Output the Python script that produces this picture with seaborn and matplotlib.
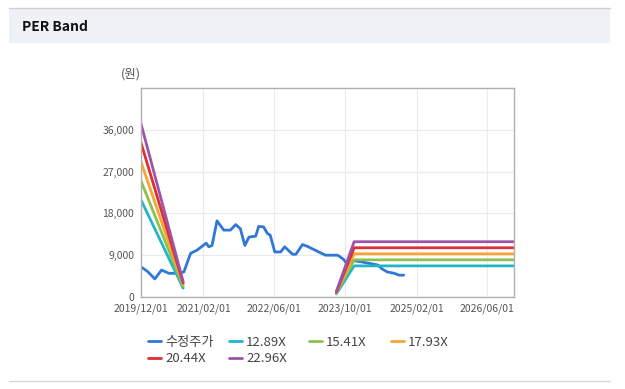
import pandas as pd
import numpy as np
import matplotlib
matplotlib.use("Agg")
import matplotlib.pyplot as plt
import matplotlib.dates as mdates
from matplotlib.patches import Rectangle
from matplotlib.lines import Line2D
from matplotlib.ticker import FuncFormatter
import seaborn as sns

# adjusted close (수정주가)
price_dates = ["2019-12-01", "2020-01-15", "2020-03-05", "2020-04-20", "2020-06-10",
               "2020-08-15", "2020-09-20", "2020-11-05", "2020-12-20", "2021-02-20",
               "2021-03-10", "2021-04-01", "2021-05-05", "2021-06-20", "2021-08-05",
               "2021-09-10", "2021-10-12", "2021-11-12", "2021-12-10", "2022-01-25",
               "2022-02-15", "2022-03-20", "2022-04-15", "2022-05-05", "2022-06-05",
               "2022-07-15", "2022-08-12", "2022-10-05", "2022-10-28", "2022-12-12",
               "2023-01-15", "2023-03-01", "2023-04-15", "2023-05-20", "2023-08-10",
               "2023-09-20", "2023-10-15", "2023-12-01", "2024-01-15", "2024-03-20",
               "2024-05-10", "2024-06-12", "2024-07-15", "2024-09-01", "2024-10-05",
               "2024-11-05"]
price_values = [6500, 5500, 3900, 5800, 5100,
                5100, 5400, 9400, 10100, 11600,
                10800, 11100, 16400, 14400, 14400,
                15600, 14700, 11100, 12900, 13100,
                15200, 15100, 13700, 13300, 9700,
                9700, 10800, 9200, 9200, 11300,
                10900, 10200, 9500, 9000, 9000,
                8100, 7000, 7800, 7600, 7200,
                6900, 6000, 5400, 5100, 4700,
                4700]

# PER band lines (two separate segments each)
band_seg1_dates = ["2019-12-01", "2020-09-15"]
band_seg2_dates = ["2023-08-01", "2023-12-01", "2026-12-01"]
band_labels = ["12.89X", "15.41X", "17.93X", "20.44X", "22.96X"]
band_seg1_values = [
    [20900, 1900],
    [25000, 2300],
    [29100, 2600],
    [33200, 3000],
    [37300, 3300],
]
band_seg2_values = [
    [650, 6700, 6700],
    [780, 8000, 8000],
    [900, 9300, 9300],
    [1030, 10600, 10600],
    [1150, 11900, 11900],
]

tick_dates = ["2019-12-01", "2021-02-01", "2022-06-01", "2023-10-01", "2025-02-01", "2026-06-01"]
y_ticks = [0, 9000, 18000, 27000, 36000]

colors = {
    "수정주가": "#2f78d6",
    "12.89X": "#22b5c8",
    "15.41X": "#8cc152",
    "17.93X": "#f6a633",
    "20.44X": "#dc2f2f",
    "22.96X": "#9e53a8",
}

# build long table
rows = []
for d, v in zip(price_dates, price_values):
    rows.append({"date": d, "value": v, "series": "수정주가", "seg": 0})
for lab, s1, s2 in zip(band_labels, band_seg1_values, band_seg2_values):
    for d, v in zip(band_seg1_dates, s1):
        rows.append({"date": d, "value": v, "series": lab, "seg": 1})
    for d, v in zip(band_seg2_dates, s2):
        rows.append({"date": d, "value": v, "series": lab, "seg": 2})
df = pd.DataFrame(rows)
df["date"] = pd.to_datetime(df["date"])

sns.set_style("whitegrid")
plt.rcParams["font.family"] = ["Noto Sans CJK KR", "DejaVu Sans"]

fig = plt.figure(figsize=(6.25, 3.89), dpi=100)
fig.patch.set_facecolor("white")

# header band
fig.patches.append(Rectangle((9 / 625, 1 - 43 / 389), 601 / 625, 35 / 389,
                             transform=fig.transFigure, facecolor="#eef1f6",
                             edgecolor="none", zorder=0))
fig.lines.append(Line2D([9 / 625, 610 / 625], [1 - 8 / 389, 1 - 8 / 389],
                        transform=fig.transFigure, color="#d0d0d0", lw=1))
fig.lines.append(Line2D([9 / 625, 610 / 625], [1 - 381 / 389, 1 - 381 / 389],
                        transform=fig.transFigure, color="#d8d8d8", lw=1))
fig.text(22 / 625, 1 - 27 / 389, "PER Band", fontsize=10, fontweight="bold",
         va="center", ha="left", color="#111111")

ax = fig.add_axes([141 / 625, 1 - 297 / 389, 373 / 625, 209 / 389])
ax.set_facecolor("white")

order = ["수정주가"] + band_labels
sns.lineplot(data=df, x="date", y="value", hue="series", units="seg",
             estimator=None, hue_order=order, palette=colors, lw=2,
             sort=False, ax=ax, legend=False)

ax.set_xlim(pd.Timestamp("2019-12-01"), pd.Timestamp("2026-12-01"))
ax.set_ylim(0, 45000)
ax.set_xticks(pd.to_datetime(tick_dates))
ax.xaxis.set_major_formatter(mdates.DateFormatter("%Y/%m/%d"))
ax.set_yticks(y_ticks)
ax.yaxis.set_major_formatter(FuncFormatter(lambda v, p: f"{int(v):,}"))
ax.tick_params(axis="both", labelsize=7.5, colors="#555555", length=3, width=0.8,
               pad=2)
ax.tick_params(axis="both", color="#aaaaaa")
ax.set_xlabel("")
ax.set_ylabel("")
ax.grid(True, color="#ebebeb", lw=0.8)
for sp in ax.spines.values():
    sp.set_color("#b0b0b0")
    sp.set_linewidth(1)

fig.text(131 / 625, 1 - 74 / 389, "(원)", fontsize=9, color="#555555",
         ha="center", va="center")

# legend: fixed-width columns, filled row by row
leg_columns = [["수정주가", "20.44X"], ["12.89X", "22.96X"], ["15.41X"], ["17.93X"]]
col_x = [147, 228, 308, 390]
for names, x0 in zip(leg_columns, col_x):
    handles = [Line2D([], [], color=colors[k], lw=2) for k in names]
    fig.legend(handles, names, loc="upper left",
               bbox_to_anchor=((x0 - 11) / 625, 1 - 324 / 389), frameon=False,
               fontsize=9.5, handlelength=1.0, handletextpad=0.3,
               labelspacing=0.25, labelcolor="#444444")

fig.savefig("out.png", dpi=100)
